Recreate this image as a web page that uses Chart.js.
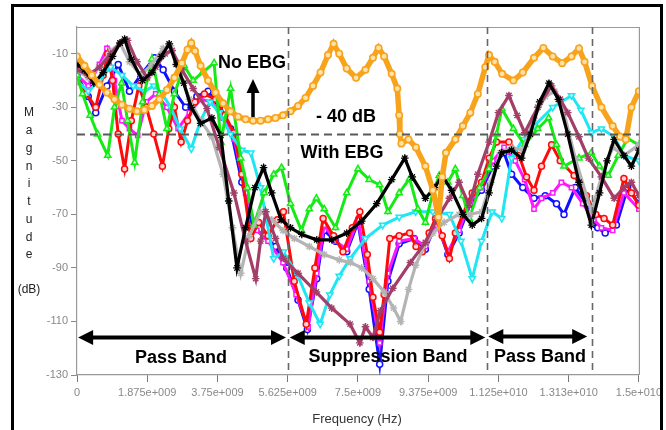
<!DOCTYPE html>
<html>
<head>
<meta charset="utf-8">
<script src="https://cdn.jsdelivr.net/npm/chart.js@4.4.1/dist/chart.umd.min.js"></script>
<style>
  html, body { margin: 0; padding: 0; background: #fff; }
  #wrap { width: 666px; height: 430px; position: relative; }
</style>
</head>
<body>
<div id="wrap"><canvas id="c" width="666" height="430"></canvas></div>
<script>
// Axis ticks (frequency in GHz internally, labels as in the plot)
const xTicks = [0, 1.875, 3.75, 5.625, 7.5, 9.375, 11.25, 13.125, 15];
const xTickLabels = ['0', '1.875e+009', '3.75e+009', '5.625e+009', '7.5e+009', '9.375e+009', '1.125e+010', '1.313e+010', '1.5e+010'];
const yTicks = [-130, -110, -90, -70, -50, -30, -10];
const refLevel = -40;
const bandEdges = [5.64, 10.94, 13.75];

// No EBG (orange)
const orangeF = [0, 0.2, 0.4, 0.6, 0.8, 1.0, 1.2, 1.4, 1.6, 1.8, 2.0, 2.2, 2.4, 2.6, 2.8, 2.95, 3.05, 3.15, 3.3, 3.5, 3.7, 3.9, 4.1, 4.3, 4.5, 4.7, 4.9, 5.1, 5.3, 5.5, 5.7, 5.9, 6.1, 6.3, 6.5, 6.7, 6.85, 7.0, 7.2, 7.45, 7.7, 7.9, 8.05, 8.2, 8.4, 8.55, 8.6, 8.62, 8.66, 8.85, 9.05, 9.3, 9.5, 9.65, 9.75, 9.85, 10.1, 10.3, 10.5, 10.7, 10.9, 11.0, 11.15, 11.35, 11.65, 11.9, 12.2, 12.45, 12.7, 12.95, 13.2, 13.4, 13.55, 13.75, 14.0, 14.3, 14.5, 14.65, 14.8, 15.0];
const orangeDb = [-11, -14.5, -18, -21.5, -24.5, -27, -29, -30.5, -31.5, -31, -29.5, -27, -23.5, -19, -13.5, -8.5, -6, -9, -14.5, -20, -24.5, -28.5, -31.5, -33.5, -34.5, -35, -35, -34.5, -34, -33, -31.5, -29.5, -26.5, -22, -17, -10.5, -6.3, -10, -15.5, -19, -16, -11.5, -7.8, -11, -17.5, -23, -33, -40, -43.5, -42, -45, -52, -61, -71, -56, -47, -42, -37, -32, -25, -15, -10.5, -13, -17.5, -20, -17, -11.5, -7.8, -11, -13.5, -11, -8, -13, -22, -30, -37, -41, -42, -30, -24];

// With EBG
const blackF = [0, 0.2, 0.45, 0.7, 0.95, 1.15, 1.27, 1.45, 1.75, 2.0, 2.25, 2.46, 2.65, 2.85, 3.05, 3.3, 3.6, 3.84, 4.05, 4.27, 4.5, 4.75, 4.98, 5.2, 5.45, 5.7, 6.0, 6.4, 6.8, 7.2, 7.6, 8.0, 8.4, 8.75, 8.95, 9.3, 9.55, 9.75, 10.0, 10.3, 10.55, 10.8, 11.0, 11.2, 11.34, 11.6, 11.87, 12.1, 12.35, 12.6, 12.85, 13.1, 13.4, 13.73, 13.95, 14.15, 14.34, 14.6, 14.8, 15.0];
const blackDb = [-14, -16, -21, -17, -11, -6, -4.5, -12, -20, -17, -11, -6.3, -14, -21, -30, -36, -34, -40.5, -65, -90, -75, -60, -52.5, -62, -72, -75, -77.5, -79.5, -79.5, -77, -72.5, -66, -57, -49, -56, -64, -60, -55.5, -61, -70, -74, -71.5, -62, -52, -47, -46, -49, -40, -28, -21, -27, -40, -58, -74, -62, -50, -42, -48, -52, -46];

const grayF = [0, 0.3, 0.6, 0.9, 1.15, 1.4, 1.7, 2.0, 2.3, 2.5, 2.75, 3.0, 3.3, 3.6, 3.9, 4.15, 4.37, 4.6, 4.9, 5.2, 5.5, 5.8, 6.2, 6.6, 7.0, 7.3, 7.6, 7.9, 8.2, 8.45, 8.64, 8.85, 9.04, 9.3, 9.5, 9.8, 10.2, 10.5, 10.8, 11.05, 11.3, 11.6, 11.9, 12.2, 12.5, 12.75, 13.0, 13.3, 13.73, 14.0, 14.3, 14.6, 15.0];
const grayDb = [-16, -19, -15, -9, -6, -13, -18, -14, -8, -7, -17, -27, -35, -41, -55, -75, -92, -78, -69, -72, -76, -79, -82, -85, -87, -88, -90, -94, -99, -105, -110, -98, -89, -81, -77, -73, -70, -70, -69, -58, -47, -45, -46, -34, -26, -24, -32, -49, -69, -56, -45, -48, -44];

const maroonF = [0, 0.3, 0.6, 0.9, 1.15, 1.35, 1.6, 1.88, 2.1, 2.35, 2.54, 2.8, 3.1, 3.47, 3.8, 4.19, 4.5, 4.77, 4.9, 5.04, 5.3, 5.51, 5.9, 6.39, 6.8, 7.29, 7.55, 7.7, 7.9, 8.1, 8.43, 8.9, 9.3, 9.6, 9.94, 10.2, 10.47, 10.7, 11.0, 11.25, 11.53, 11.75, 11.95, 12.3, 12.67, 12.9, 13.1, 13.4, 13.65, 14.0, 14.34, 14.6, 14.8, 15.0];
const maroonDb = [-16, -18, -15, -10, -6, -5, -13, -19, -15, -10, -8.8, -16, -23, -30.5, -45, -62, -80, -94, -80, -69, -79, -86.5, -92, -99, -105, -111, -118, -112, -116, -106, -97.6, -88, -80.5, -72, -64, -58, -66.6, -55, -43, -32, -25.6, -33, -39.5, -30, -22, -27, -32, -41, -49, -56, -64, -60, -58, -63];

const redF = [0, 0.25, 0.5, 0.7, 0.82, 0.95, 1.1, 1.27, 1.45, 1.65, 1.85, 2.05, 2.28, 2.45, 2.6, 2.78, 2.95, 3.15, 3.4, 3.7, 3.95, 4.19, 4.4, 4.64, 4.85, 5.1, 5.35, 5.51, 5.8, 6.12, 6.35, 6.57, 6.85, 7.1, 7.35, 7.55, 7.75, 7.9, 8.08, 8.2, 8.35, 8.6, 8.88, 9.05, 9.22, 9.4, 9.57, 9.75, 9.94, 10.1, 10.3, 10.55, 10.8, 11.0, 11.2, 11.53, 11.8, 12.0, 12.2, 12.4, 12.67, 12.9, 13.27, 13.6, 13.85, 14.07, 14.3, 14.6, 14.8, 15.0];
const redDb = [-20, -25, -30, -18, -10, -20, -40, -53, -35, -22, -30, -40, -52, -38, -30, -43, -35, -28, -25, -27, -33, -39.5, -55, -79, -73, -78, -72, -69, -95, -111, -90, -71.5, -78, -84, -75, -69, -85, -101, -114, -100, -79, -78, -77, -82, -84, -77, -71.5, -78, -86.5, -77, -70, -62, -58, -49, -43, -43, -48, -56, -61, -52, -44, -50, -55.5, -63, -70, -71.5, -74, -56.6, -62, -66.6];

const magentaF = [0, 0.3, 0.6, 0.8, 1.0, 1.2, 1.4, 1.62, 1.85, 2.1, 2.4, 2.7, 3.0, 3.3, 3.6, 3.9, 4.2, 4.5, 4.8, 5.1, 5.5, 5.85, 6.17, 6.4, 6.6, 6.9, 7.2, 7.5, 7.8, 8.08, 8.3, 8.6, 9.0, 9.3, 9.6, 9.9, 10.2, 10.5, 10.8, 11.1, 11.4, 11.7, 11.95, 12.2, 12.4, 12.7, 12.93, 13.2, 13.5, 13.8, 14.0, 14.3, 14.6, 15.0];
const magentaDb = [-18, -22, -14, -8, -20, -35, -38, -40.5, -28, -25, -30, -38, -32, -27, -28, -34, -42, -62, -76, -80, -88, -100, -112, -92, -74, -80, -83, -72, -95, -118, -92, -80, -79, -82, -74, -84, -76, -65, -60, -50, -45, -50, -57, -68, -64, -62, -58, -60, -66, -72, -75, -76, -62, -68];

const blueF = [0, 0.3, 0.5, 0.8, 1.1, 1.4, 1.7, 2.07, 2.3, 2.6, 2.9, 3.2, 3.5, 3.8, 4.1, 4.4, 4.7, 5.0, 5.3, 5.6, 5.9, 6.15, 6.4, 6.6, 6.9, 7.2, 7.5, 7.8, 8.08, 8.3, 8.6, 9.0, 9.3, 9.6, 9.9, 10.2, 10.5, 10.8, 11.1, 11.4, 11.6, 11.9, 12.2, 12.5, 12.8, 13.0, 13.3, 13.6, 13.9, 14.1, 14.4, 14.7, 15.0];
const blueDb = [-18, -26, -32, -22, -14, -24, -18, -11.5, -16, -24, -30, -26, -24, -30, -38, -58, -75, -78, -82, -90, -102, -113, -94, -76, -80, -84, -73, -98, -126, -95, -81, -79, -83, -73, -85, -77, -66, -61, -52, -47, -55, -60, -64, -63, -66, -70, -60, -66, -75, -77, -74, -60, -66];

const cyanF = [0, 0.3, 0.6, 0.9, 1.2, 1.5, 1.8, 2.05, 2.25, 2.5, 2.75, 3.05, 3.3, 3.55, 3.8, 4.1, 4.4, 4.64, 4.9, 5.25, 5.51, 5.9, 6.2, 6.49, 6.75, 7.0, 7.29, 7.7, 8.16, 8.6, 9.04, 9.5, 9.94, 10.25, 10.55, 10.8, 11.08, 11.34, 11.6, 11.9, 12.2, 12.7, 13.2, 13.45, 13.73, 14.0, 14.34, 14.6, 15.0];
const cyanDb = [-20, -24, -20, -15, -18, -22, -24, -22, -24.5, -30, -38, -45.5, -35, -28, -32, -40, -46, -47, -60, -86.5, -84, -93, -103, -111, -100, -93, -86.5, -79, -74, -71, -69, -69, -70, -80, -94, -80, -69, -71.5, -49, -42, -37, -30, -25.6, -31, -39.5, -38, -41, -48, -50];

const greenF = [0, 0.15, 0.35, 0.55, 0.82, 1.0, 1.19, 1.35, 1.54, 1.75, 2.0, 2.2, 2.4, 2.6, 2.86, 3.1, 3.35, 3.66, 3.84, 4.1, 4.37, 4.55, 4.72, 5.0, 5.25, 5.46, 5.7, 5.99, 6.2, 6.39, 6.6, 6.9, 7.2, 7.5, 7.8, 8.08, 8.3, 8.6, 8.88, 9.1, 9.3, 9.5, 9.67, 9.9, 10.1, 10.3, 10.47, 10.75, 11.0, 11.2, 11.34, 11.65, 11.95, 12.3, 12.59, 12.8, 13.0, 13.4, 13.73, 13.95, 14.18, 14.45, 14.7, 15.0];
const greenDb = [-18, -25, -33, -40, -48, -30, -21, -35, -50.6, -28, -12, -25, -38, -25, -14.5, -20, -17, -13.4, -43, -23, -49, -60, -74, -62, -55, -52.5, -66, -76, -68, -64, -68, -75, -62, -53, -57, -59, -69, -62, -56.6, -68, -73, -62, -55.5, -58, -53, -63, -71.5, -60, -53, -40, -30.5, -38, -44, -38, -34, -44, -52, -49, -47, -52, -55.5, -48, -41.7, -44];

function pts(f, d) { return f.map((v, i) => ({ x: v, y: d[i] })); }

function series(f, d, color, fill, style, extra) {
  return Object.assign({
    data: pts(f, d),
    borderColor: color,
    borderWidth: 3,
    pointStyle: style,
    pointRadius: 3,
    pointBorderColor: color,
    pointBackgroundColor: fill,
    pointBorderWidth: 1.5,
    tension: 0,
    fill: false
  }, extra || {});
}

// first dataset is drawn on top
const datasets = [
  series(orangeF, orangeDb, '#f8a31c', '#ffe2a8', 'circle', { borderWidth: 5.5, pointRadius: 3.2, pointBorderWidth: 1.6 }),
  series(blackF, blackDb, '#000000', '#000000', 'star', { borderWidth: 3.2, pointRadius: 3.8, pointBorderWidth: 1.3 }),
  series(maroonF, maroonDb, '#a23e68', '#a23e68', 'star', { borderWidth: 3.2, pointRadius: 3.8, pointBorderWidth: 1.4 }),
  series(grayF, grayDb, '#b4b4b4', '#b4b4b4', 'star', { borderWidth: 3.2, pointRadius: 3.8, pointBorderWidth: 1.4 }),
  series(greenF, greenDb, '#16ea16', '#c9ffc9', 'triangle', { pointRadius: 3.6 }),
  series(cyanF, cyanDb, '#1ee6f2', '#d2fbff', 'triangle', { pointRadius: 3.6, pointRotation: 180 }),
  series(redF, redDb, '#ff0a0a', '#ffd6d6', 'circle'),
  series(magentaF, magentaDb, '#ff17ff', '#ffffff', 'rect'),
  series(blueF, blueDb, '#1010ff', '#ffffff', 'circle')
];

function doubleArrow(ctx, x1, x2, y) {
  const hl = 15, hw = 7.5;
  ctx.lineWidth = 4;
  ctx.beginPath(); ctx.moveTo(x1 + hl - 2, y); ctx.lineTo(x2 - hl + 2, y); ctx.stroke();
  ctx.beginPath(); ctx.moveTo(x1, y); ctx.lineTo(x1 + hl, y - hw); ctx.lineTo(x1 + hl, y + hw); ctx.closePath(); ctx.fill();
  ctx.beginPath(); ctx.moveTo(x2, y); ctx.lineTo(x2 - hl, y - hw); ctx.lineTo(x2 - hl, y + hw); ctx.closePath(); ctx.fill();
}

const annotate = {
  id: 'annotate',
  afterDatasetsDraw(chart) {
    const { ctx, chartArea: a, scales: { x, y } } = chart;
    ctx.save();
    // top / right border of plot box
    ctx.strokeStyle = '#9a9a9a'; ctx.lineWidth = 1.2;
    ctx.beginPath(); ctx.moveTo(a.left, a.top + 0.5); ctx.lineTo(a.right + 0.5, a.top + 0.5); ctx.lineTo(a.right + 0.5, a.bottom); ctx.stroke();

    // -40 dB reference
    ctx.setLineDash([8, 5]); ctx.strokeStyle = '#5a5a5a'; ctx.lineWidth = 2;
    const yr = Math.round(y.getPixelForValue(refLevel)) + 0.5;
    ctx.beginPath(); ctx.moveTo(a.left, yr); ctx.lineTo(a.right, yr); ctx.stroke();
    // band edges
    ctx.setLineDash([7, 5]); ctx.lineWidth = 1.6; ctx.strokeStyle = '#666';
    bandEdges.forEach(f => {
      const px = Math.round(x.getPixelForValue(f)) + 0.5;
      ctx.beginPath(); ctx.moveTo(px, a.top); ctx.lineTo(px, a.bottom); ctx.stroke();
    });
    ctx.setLineDash([]);

    // band arrows
    ctx.strokeStyle = '#000'; ctx.fillStyle = '#000';
    const ya = y.getPixelForValue(-116);
    doubleArrow(ctx, x.getPixelForValue(0.03), x.getPixelForValue(5.58), ya);
    doubleArrow(ctx, x.getPixelForValue(5.68), x.getPixelForValue(10.9), ya);
    doubleArrow(ctx, x.getPixelForValue(10.98), x.getPixelForValue(13.62), ya - 1);

    // up arrow next to "No EBG"
    ctx.lineWidth = 3.5;
    ctx.beginPath(); ctx.moveTo(253, 117); ctx.lineTo(253, 90); ctx.stroke();
    ctx.beginPath(); ctx.moveTo(253, 79); ctx.lineTo(246.5, 93); ctx.lineTo(259.5, 93); ctx.closePath(); ctx.fill();

    ctx.font = 'bold 18px "Liberation Sans", Arial, sans-serif';
    ctx.textAlign = 'center'; ctx.textBaseline = 'middle';
    ctx.fillText('Pass Band', 181, 358);
    ctx.fillText('Suppression Band', 388, 357);
    ctx.fillText('Pass Band', 540, 357);
    ctx.fillText('No EBG', 252, 63);
    ctx.fillText('- 40 dB', 346, 117);
    ctx.fillText('With EBG', 342, 153);
    ctx.restore();
  },
  afterDraw(chart) {
    const { ctx } = chart;
    ctx.save();
    ctx.fillStyle = '#222';
    ctx.font = '12px "Liberation Sans", Arial, sans-serif';
    ctx.textAlign = 'center'; ctx.textBaseline = 'middle';
    'Magnitude'.split('').forEach((ch, i) => ctx.fillText(ch, 29, 113 + i * 17.75));
    ctx.fillText('(dB)', 29, 290);
    ctx.fillStyle = '#333';
    ctx.font = '13px "Liberation Sans", Arial, sans-serif';
    ctx.fillText('Frequency (Hz)', 357, 419);
    // outer figure frame
    ctx.strokeStyle = '#000'; ctx.lineWidth = 3;
    ctx.beginPath(); ctx.moveTo(12.5, 440); ctx.lineTo(12.5, 5.5); ctx.lineTo(661.5, 5.5); ctx.lineTo(661.5, 440); ctx.stroke();
    ctx.restore();
  }
};

new Chart(document.getElementById('c'), {
  type: 'line',
  data: { datasets },
  options: {
    responsive: false,
    animation: false,
    events: [],
    layout: { padding: { left: 0, right: 23, top: 27, bottom: 0 } },
    plugins: { legend: { display: false }, tooltip: { enabled: false } },
    scales: {
      x: {
        type: 'linear', min: 0, max: 15,
        afterFit: s => { s.height = 55; },
        afterBuildTicks: s => { s.ticks = xTicks.map(v => ({ value: v })); },
        grid: { drawOnChartArea: false, drawTicks: true, tickLength: 7, color: '#777' },
        border: { display: true, color: '#999', width: 1.2 },
        ticks: {
          autoSkip: false, maxRotation: 0, padding: 4, color: '#888',
          font: { family: '"Liberation Sans", Arial, sans-serif', size: 11 },
          callback: (v, i) => xTickLabels[i]
        }
      },
      y: {
        type: 'linear', min: -130, max: 0,
        afterFit: s => { s.width = 77; },
        afterBuildTicks: s => { s.ticks = yTicks.map(v => ({ value: v })); },
        grid: { drawOnChartArea: false, drawTicks: true, tickLength: 6, color: '#888' },
        border: { display: true, color: '#999', width: 1.2 },
        ticks: {
          padding: 3, color: '#888',
          font: { family: '"Liberation Sans", Arial, sans-serif', size: 11 },
          callback: v => String(v)
        }
      }
    }
  },
  plugins: [annotate]
});
</script>
</body>
</html>
